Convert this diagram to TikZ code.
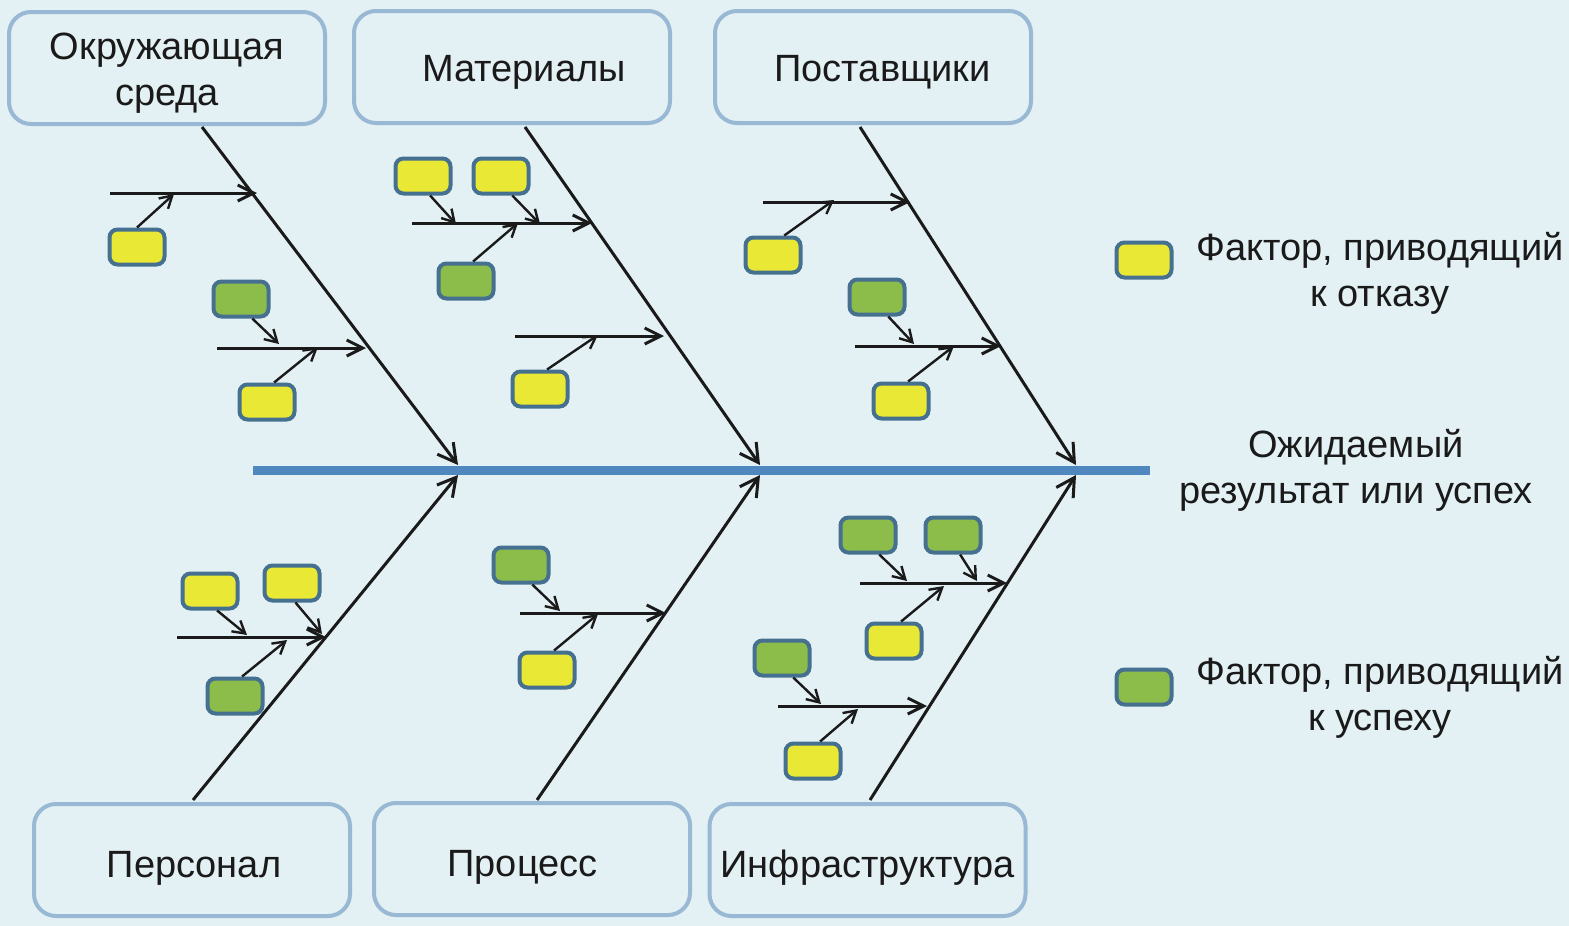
\documentclass[tikz,border=0pt]{standalone}
\usepackage{fontspec}
\setmainfont{Liberation Sans}
\usetikzlibrary{arrows.meta}
\definecolor{bg}{HTML}{E3F1F5}
\definecolor{bigborder}{HTML}{98B8D4}
\definecolor{smallborder}{HTML}{46708F}
\definecolor{yel}{HTML}{E9E835}
\definecolor{grn}{HTML}{8CBD4B}
\definecolor{spinec}{HTML}{4F87BF}
\definecolor{ink}{HTML}{1A1A1A}
\tikzset{
  bigbox/.style={draw=bigborder, line width=2pt, rounded corners=11pt, fill=bg,
    minimum width=158pt, minimum height=56pt},
  smallbox/.style={draw=smallborder, line width=2pt, rounded corners=4pt,
    minimum width=27.5pt, minimum height=17.5pt, inner sep=0pt},
  yb/.style={smallbox, fill=yel},
  gb/.style={smallbox, fill=grn},
  lbl/.style={align=center, text=ink, font=\fontsize{19}{23}\selectfont},
  rib/.style={draw=ink, line width=1.5pt, -{Straight Barb[length=9pt,width=10pt]}},
  branch/.style={draw=ink, line width=1.5pt, -{Straight Barb[length=8pt,width=8pt]}},
  twig/.style={draw=ink, line width=1.2pt, -{Straight Barb[length=6pt,width=7pt]}},
  spineline/.style={draw=spinec, line width=4.5pt}
}
\begin{document}
\begin{tikzpicture}[x=0.5pt,y=-0.5pt]
\fill[bg] (0,0) rectangle (1569,926);
\useasboundingbox (0,0) rectangle (1569,926);

% big boxes
\node[bigbox, label={[lbl,yshift=-2.5pt]center:Окружающая\\среда}] (env) at (167,68) {};
\node[bigbox, label={[lbl,xshift=6pt,yshift=-2.5pt]center:Материалы}] (mat) at (512,67) {};
\node[bigbox, label={[lbl,xshift=4.75pt,yshift=-2.5pt]center:Поставщики}] (sup) at (873,67) {};
\node[bigbox, label={[lbl,xshift=1pt,yshift=-4pt]center:Персонал}] (pers) at (192,860) {};
\node[bigbox, label={[lbl,xshift=-4.75pt,yshift=-4pt]center:Процесс}] (proc) at (532,859) {};
\node[bigbox, label={[lbl,yshift=-4pt]center:Инфраструктура}] (infra) at (867.5,860) {};

% spine
\coordinate (sp0) at (253,470);
\coordinate (sp1) at (1150,470);
\draw[spineline] (sp0) -- (sp1);
\node[lbl] (goal) at (1356,470) {Ожидаемый\\результат или успех};

% rib coordinates
\coordinate (r1a) at (202,127);  \coordinate (r1b) at (458,465);
\coordinate (r2a) at (525,127);  \coordinate (r2b) at (760,465);
\coordinate (r3a) at (860,127);  \coordinate (r3b) at (1076,465);
\coordinate (r4a) at (193,800);  \coordinate (r4b) at (458,475);
\coordinate (r5a) at (537,800);  \coordinate (r5b) at (760,475);
\coordinate (r6a) at (870,800);  \coordinate (r6b) at (1076,475);
\draw[rib] (r1a) -- (r1b);
\draw[rib] (r2a) -- (r2b);
\draw[rib] (r3a) -- (r3b);
\draw[rib] (r4a) -- (r4b);
\draw[rib] (r5a) -- (r5b);
\draw[rib] (r6a) -- (r6b);

% branches
\coordinate (b1a) at (110,193); \coordinate (e1a) at (257,193);
\coordinate (b1b) at (217,348); \coordinate (e1b) at (366,348);
\coordinate (b2a) at (412,223); \coordinate (e2a) at (592,223);
\coordinate (b2b) at (515,336); \coordinate (e2b) at (664,336);
\coordinate (b3a) at (763,202); \coordinate (e3a) at (910,202);
\coordinate (b3b) at (855,346); \coordinate (e3b) at (1001,346);
\coordinate (b4a) at (177,637); \coordinate (e4a) at (326,637);
\coordinate (b5a) at (520,613); \coordinate (e5a) at (666,613);
\coordinate (b6a) at (860,583); \coordinate (e6a) at (1007,583);
\coordinate (b6b) at (778,706); \coordinate (e6b) at (927,706);
\foreach \n in {1a,1b,2a,2b,3a,3b,4a,5a,6a,6b}
  \draw[branch] (b\n) -- (e\n);

% small boxes
\node[yb] (y1)  at (137,247) {};
\node[gb] (g1)  at (241,299) {};
\node[yb] (y2)  at (267,402) {};
\node[yb] (y3)  at (423,176) {};
\node[yb] (y4)  at (501,176) {};
\node[gb] (g2)  at (466,281) {};
\node[yb] (y5)  at (540,389) {};
\node[yb] (y6)  at (773,255) {};
\node[gb] (g3)  at (877,297) {};
\node[yb] (y7)  at (901,401) {};
\node[yb] (y8)  at (210,591) {};
\node[yb] (y9)  at (292,583) {};
\node[gb] (g4)  at (235,696) {};
\node[gb] (g5)  at (521,565) {};
\node[yb] (y10) at (547,670) {};
\node[gb] (g6)  at (868,535) {};
\node[gb] (g7)  at (953,535) {};
\node[yb] (y11) at (894,641) {};
\node[gb] (g8)  at (782,658) {};
\node[yb] (y12) at (813,761) {};

% twig targets
\coordinate (t1)  at (174,194);
\coordinate (t2)  at (279,344);
\coordinate (t3)  at (318,347);
\coordinate (t4)  at (456,224);
\coordinate (t5)  at (540,224);
\coordinate (t6)  at (518,223);
\coordinate (t7)  at (598,335);
\coordinate (t8)  at (834,200);
\coordinate (t9)  at (914,344);
\coordinate (t10) at (954,346);
\coordinate (t11) at (247,635);
\coordinate (t12) at (322,634);
\coordinate (t13) at (287,640);
\coordinate (t14) at (560,611);
\coordinate (t15) at (598,614);
\coordinate (t16) at (907,581);
\coordinate (t17) at (977,581);
\coordinate (t18) at (944,586);
\coordinate (t19) at (821,704);
\coordinate (t20) at (858,709);

\draw[twig] (y1.north) -- (t1);
\draw[twig] (g1.-60) -- (t2);
\draw[twig] (y2.70) -- (t3);
\draw[twig] (y3.-70) -- (t4);
\draw[twig] (y4.-60) -- (t5);
\draw[twig] (g2.70) -- (t6);
\draw[twig] (y5.70) -- (t7);
\draw[twig] (y6.60) -- (t8);
\draw[twig] (g3.-60) -- (t9);
\draw[twig] (y7.70) -- (t10);
\draw[twig] (y8.-70) -- (t11);
\draw[twig] (y9.-80) -- (t12);
\draw[twig] (g4.70) -- (t13);
\draw[twig] (g5.-60) -- (t14);
\draw[twig] (y10.70) -- (t15);
\draw[twig] (g6.-60) -- (t16);
\draw[twig] (g7.-70) -- (t17);
\draw[twig] (y11.70) -- (t18);
\draw[twig] (g8.-60) -- (t19);
\draw[twig] (y12.70) -- (t20);

% legend
\node[yb] (ly) at (1144,260) {};
\node[gb] (lg) at (1144,687) {};
\node[lbl] (lyt) at (1380,273) {Фактор, приводящий\\к отказу};
\node[lbl] (lgt) at (1380,697) {Фактор, приводящий\\к успеху};
\end{tikzpicture}
\end{document}
